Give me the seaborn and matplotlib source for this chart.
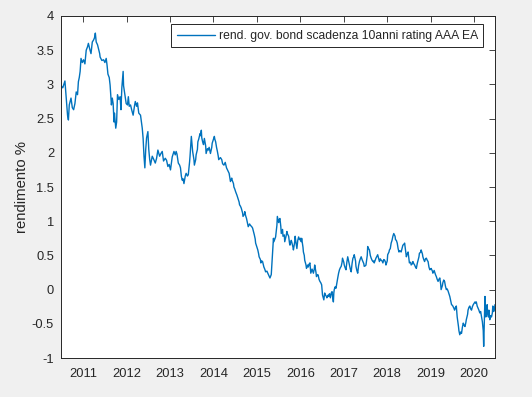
import numpy as np
import pandas as pd
import matplotlib
matplotlib.use("Agg")
import matplotlib.pyplot as plt
import matplotlib.dates as mdates
from matplotlib.ticker import MultipleLocator, FormatStrFormatter
import seaborn as sns

# Rendimento titoli di stato 10 anni, rating AAA area euro
anni = [
    2010.49, 2010.53, 2010.58, 2010.61, 2010.64, 2010.66, 2010.68, 2010.72, 2010.75, 2010.78,
    2010.81, 2010.84, 2010.87, 2010.89, 2010.91, 2010.93, 2010.95, 2010.98, 2011.01, 2011.04,
    2011.07, 2011.10, 2011.12, 2011.15, 2011.18, 2011.21, 2011.24, 2011.26, 2011.28, 2011.30,
    2011.33, 2011.35, 2011.38, 2011.39, 2011.43, 2011.47, 2011.50, 2011.53, 2011.55, 2011.57,
    2011.60, 2011.62, 2011.65, 2011.67, 2011.69, 2011.71, 2011.72, 2011.75, 2011.77, 2011.79,
    2011.82, 2011.85, 2011.87, 2011.89, 2011.92, 2011.93, 2011.95, 2011.97, 2011.99, 2012.02,
    2012.04, 2012.06, 2012.09, 2012.12, 2012.15, 2012.18, 2012.20, 2012.23, 2012.25, 2012.28,
    2012.32, 2012.36, 2012.38, 2012.40, 2012.42, 2012.44, 2012.46, 2012.49, 2012.51, 2012.53,
    2012.55, 2012.59, 2012.62, 2012.66, 2012.69, 2012.72, 2012.76, 2012.79, 2012.82, 2012.85,
    2012.89, 2012.92, 2012.95, 2012.98, 2013.01,
    2013.05, 2013.09, 2013.12, 2013.14, 2013.16, 2013.19, 2013.22, 2013.24, 2013.26, 2013.28,
    2013.30, 2013.32, 2013.35, 2013.37, 2013.40, 2013.42, 2013.45, 2013.46, 2013.48, 2013.49,
    2013.51, 2013.52, 2013.55, 2013.56, 2013.59, 2013.60, 2013.63, 2013.64, 2013.66, 2013.69,
    2013.70, 2013.72, 2013.73, 2013.75, 2013.77, 2013.79, 2013.82, 2013.83, 2013.86, 2013.88,
    2013.90, 2013.93, 2013.96, 2013.97, 2013.99, 2014.02, 2014.03, 2014.05, 2014.07, 2014.09,
    2014.11, 2014.12, 2014.16, 2014.19, 2014.21, 2014.24, 2014.27, 2014.30, 2014.33, 2014.36,
    2014.38, 2014.39, 2014.42, 2014.43, 2014.46, 2014.47, 2014.49, 2014.51, 2014.54, 2014.56,
    2014.59, 2014.60, 2014.62, 2014.64, 2014.67, 2014.68, 2014.71, 2014.72, 2014.74, 2014.76,
    2014.78, 2014.80, 2014.83, 2014.85, 2014.88, 2014.90, 2014.92, 2014.94, 2014.96, 2014.97,
    2015.00, 2015.02, 2015.04, 2015.05, 2015.08, 2015.09, 2015.11, 2015.13, 2015.15, 2015.16,
    2015.18, 2015.20, 2015.23, 2015.25, 2015.28, 2015.30, 2015.33, 2015.34, 2015.36, 2015.38,
    2015.39, 2015.43, 2015.46, 2015.47, 2015.50, 2015.51, 2015.53, 2015.55, 2015.56, 2015.59,
    2015.60, 2015.63, 2015.64, 2015.67, 2015.69, 2015.70, 2015.73, 2015.75, 2015.76, 2015.79,
    2015.80, 2015.83, 2015.84, 2015.87, 2015.88, 2015.90, 2015.92, 2015.94, 2015.96, 2015.98,
    2016.00, 2016.02, 2016.03, 2016.06, 2016.07, 2016.09, 2016.10, 2016.13, 2016.14, 2016.17,
    2016.18, 2016.20, 2016.22, 2016.24, 2016.27, 2016.30, 2016.32, 2016.33, 2016.36, 2016.37,
    2016.40, 2016.41, 2016.43, 2016.45, 2016.47, 2016.49, 2016.51, 2016.54, 2016.56, 2016.57,
    2016.60, 2016.61, 2016.64, 2016.65, 2016.67, 2016.69, 2016.71, 2016.73, 2016.74, 2016.76,
    2016.77, 2016.78, 2016.80, 2016.82, 2016.84, 2016.86, 2016.88, 2016.90, 2016.92, 2016.94,
    2016.96, 2016.97, 2017.00, 2017.01, 2017.03, 2017.05, 2017.07, 2017.09, 2017.11, 2017.13,
    2017.15, 2017.17, 2017.19, 2017.21, 2017.23, 2017.24, 2017.27, 2017.28, 2017.30, 2017.32,
    2017.34, 2017.36, 2017.38, 2017.40, 2017.42, 2017.44, 2017.46, 2017.47, 2017.50, 2017.51,
    2017.54, 2017.55, 2017.57, 2017.59, 2017.61, 2017.63, 2017.65, 2017.67, 2017.69, 2017.70,
    2017.73, 2017.74, 2017.77, 2017.78, 2017.80, 2017.82, 2017.84, 2017.86, 2017.88, 2017.90,
    2017.92, 2017.94, 2017.96, 2017.97,
    2018.00, 2018.01, 2018.04, 2018.05, 2018.07, 2018.09, 2018.11, 2018.13, 2018.15, 2018.18,
    2018.19, 2018.21, 2018.23, 2018.25, 2018.27, 2018.29, 2018.32, 2018.34, 2018.36, 2018.38,
    2018.40, 2018.42, 2018.44, 2018.46, 2018.48, 2018.50, 2018.51, 2018.54, 2018.55, 2018.58,
    2018.59, 2018.61, 2018.63, 2018.65, 2018.67, 2018.69, 2018.71, 2018.73, 2018.74, 2018.77,
    2018.78, 2018.81, 2018.82, 2018.84, 2018.86, 2018.88, 2018.90, 2018.92, 2018.94, 2018.96,
    2018.98, 2019.00, 2019.01, 2019.04, 2019.05, 2019.08, 2019.09, 2019.11, 2019.13, 2019.15,
    2019.17, 2019.19, 2019.21, 2019.23, 2019.24, 2019.27, 2019.28, 2019.30, 2019.32, 2019.34,
    2019.36, 2019.38, 2019.40, 2019.42, 2019.44, 2019.46, 2019.48, 2019.50, 2019.51, 2019.54,
    2019.55, 2019.57, 2019.59, 2019.61, 2019.64, 2019.65, 2019.67, 2019.69, 2019.71, 2019.73,
    2019.75, 2019.77, 2019.79, 2019.81, 2019.82, 2019.85, 2019.86, 2019.88, 2019.90, 2019.92,
    2019.94, 2019.96, 2019.98, 2020.00, 2020.02, 2020.04, 2020.05, 2020.07, 2020.09, 2020.11,
    2020.13, 2020.15, 2020.17, 2020.19, 2020.21, 2020.22, 2020.24, 2020.25, 2020.26, 2020.27,
    2020.28, 2020.30, 2020.31, 2020.33, 2020.34, 2020.36, 2020.38, 2020.40, 2020.42, 2020.43,
    2020.45, 2020.47, 2020.48,
]

rendimento = [
    2.98, 2.95, 3.05, 2.80, 2.55, 2.48, 2.70, 2.80, 2.66, 2.63,
    2.72, 2.89, 2.85, 3.04, 3.10, 3.19, 3.38, 3.32, 3.36, 3.30,
    3.50, 3.55, 3.60, 3.52, 3.45, 3.62, 3.65, 3.68, 3.75, 3.62,
    3.58, 3.53, 3.45, 3.40, 3.35, 3.36, 3.32, 3.38, 3.28, 3.15,
    3.10, 2.99, 2.70, 2.80, 2.72, 2.45, 2.58, 2.36, 2.45, 2.85,
    2.78, 2.82, 2.63, 2.95, 3.19, 2.98, 2.89, 2.80, 2.72, 2.70,
    2.82, 2.68, 2.70, 2.62, 2.55, 2.68, 2.75, 2.68, 2.73, 2.58,
    2.55, 2.36, 2.21, 1.95, 1.78, 2.05, 2.22, 2.31, 2.05, 1.91,
    1.82, 1.95, 1.91, 1.85, 1.92, 2.04, 1.95, 1.99, 2.02, 1.88,
    1.92, 1.89, 1.80, 1.83, 1.75,
    1.94, 2.02, 1.97, 2.02, 1.98, 1.85, 1.82, 1.78, 1.66, 1.60,
    1.62, 1.55, 1.66, 1.70, 1.66, 1.68, 1.87, 1.95, 2.14, 2.24,
    2.10, 2.02, 1.90, 1.82, 1.90, 1.97, 2.05, 2.16, 2.20, 2.28,
    2.25, 2.33, 2.22, 2.16, 2.12, 2.21, 2.10, 1.99, 2.06, 2.04,
    2.08, 1.99, 2.08, 2.14, 2.18, 2.24, 2.20, 2.16, 2.08, 2.02,
    1.95, 1.90, 1.93, 1.90, 1.84, 1.82, 1.86, 1.78, 1.74, 1.70,
    1.62, 1.58, 1.63, 1.60, 1.55, 1.50, 1.47, 1.43, 1.38, 1.34,
    1.28, 1.24, 1.22, 1.19, 1.12, 1.07, 1.10, 1.14, 1.08, 1.04,
    0.98, 0.92, 0.96, 0.94, 0.92, 0.90, 0.85, 0.80, 0.74, 0.68,
    0.62, 0.58, 0.52, 0.48, 0.44, 0.39, 0.42, 0.41, 0.36, 0.33,
    0.30, 0.26, 0.27, 0.24, 0.20, 0.17, 0.22, 0.33, 0.53, 0.75,
    0.70, 0.77, 0.94, 1.07, 0.98, 1.02, 1.04, 0.92, 0.82, 0.88,
    0.78, 0.80, 0.70, 0.78, 0.85, 0.82, 0.78, 0.68, 0.65, 0.72,
    0.70, 0.62, 0.58, 0.70, 0.78, 0.68, 0.60, 0.72, 0.77, 0.73,
    0.75, 0.70, 0.75, 0.62, 0.55, 0.50, 0.43, 0.36, 0.31, 0.36,
    0.33, 0.37, 0.39, 0.24, 0.30, 0.24, 0.30, 0.36, 0.25, 0.19,
    0.22, 0.21, 0.15, 0.12, 0.10, 0.07, -0.08, -0.15, -0.05, -0.07,
    -0.10, -0.12, -0.08, -0.10, -0.06, -0.12, -0.05, -0.03, -0.10, -0.18,
    -0.05, 0.00, 0.04, 0.02, 0.10, 0.17, 0.24, 0.29, 0.32, 0.34,
    0.40, 0.46, 0.40, 0.36, 0.32, 0.29, 0.40, 0.48, 0.42, 0.36,
    0.30, 0.26, 0.38, 0.46, 0.48, 0.51, 0.42, 0.34, 0.28, 0.24,
    0.35, 0.41, 0.45, 0.48, 0.44, 0.41, 0.38, 0.34, 0.35, 0.36,
    0.50, 0.63, 0.60, 0.58, 0.50, 0.46, 0.43, 0.41, 0.42, 0.39,
    0.44, 0.46, 0.50, 0.51, 0.46, 0.41, 0.45, 0.43, 0.42, 0.39,
    0.44, 0.43, 0.40, 0.36,
    0.42, 0.51, 0.55, 0.58, 0.60, 0.68, 0.72, 0.78, 0.82, 0.78,
    0.73, 0.72, 0.68, 0.60, 0.55, 0.57, 0.55, 0.60, 0.65, 0.66,
    0.68, 0.58, 0.48, 0.52, 0.55, 0.45, 0.39, 0.40, 0.36, 0.38,
    0.41, 0.38, 0.36, 0.33, 0.31, 0.38, 0.43, 0.48, 0.53, 0.55,
    0.58, 0.52, 0.48, 0.44, 0.41, 0.45, 0.46, 0.43, 0.41, 0.33,
    0.29, 0.30, 0.31, 0.27, 0.24, 0.28, 0.26, 0.22, 0.19, 0.15,
    0.12, 0.15, 0.17, 0.08, 0.00, 0.06, 0.10, 0.14, 0.12, 0.05,
    0.00, 0.01, -0.02, -0.06, -0.10, -0.16, -0.22, -0.23, -0.24, -0.28,
    -0.30, -0.26, -0.24, -0.40, -0.54, -0.60, -0.66, -0.62, -0.64, -0.55,
    -0.49, -0.52, -0.54, -0.48, -0.44, -0.36, -0.30, -0.26, -0.24, -0.28,
    -0.30, -0.25, -0.22, -0.20, -0.18, -0.20, -0.18, -0.24, -0.27, -0.30,
    -0.34, -0.32, -0.40, -0.47, -0.60, -0.83, -0.30, -0.10, -0.28, -0.40,
    -0.32, -0.22, -0.35, -0.40, -0.30, -0.44, -0.38, -0.40, -0.34, -0.24,
    -0.32, -0.28, -0.22,
]

etichetta = "rend. gov. bond scadenza 10anni rating AAA EA"

# Conversione anno decimale -> data
anni = np.array(anni)
date = pd.to_datetime("2010-01-01") + pd.to_timedelta((anni - 2010) * 365.25, unit="D")
df = pd.DataFrame({"data": date, "rendimento": rendimento})

sns.set_style("white")
plt.rcParams["font.family"] = ["Liberation Sans", "DejaVu Sans"]
plt.rcParams["axes.unicode_minus"] = False

grigio = "#262626"
fig = plt.figure(figsize=(5.32, 3.97), dpi=100, facecolor="#f0f0f0")
ax = fig.add_axes([0.1147, 0.0982, 0.8157, 0.8615])
ax.set_facecolor("white")

sns.lineplot(data=df, x="data", y="rendimento", ax=ax, color="#0072bd",
             linewidth=1.0, estimator=None, label=etichetta)

ax.set_xlim(df["data"].min(), df["data"].max())
ax.set_ylim(-1, 4)
ax.yaxis.set_major_locator(MultipleLocator(0.5))
ax.yaxis.set_major_formatter(FormatStrFormatter("%g"))
ax.xaxis.set_major_locator(mdates.YearLocator())
ax.xaxis.set_major_formatter(mdates.DateFormatter("%Y"))

ax.set_xlabel("")
ax.set_ylabel("rendimento %", fontsize=10.7, color=grigio, labelpad=2)
ax.tick_params(axis="both", direction="in", length=4, width=0.6, colors=grigio,
               labelsize=9.3, top=True, right=True, pad=5)
ax.tick_params(axis="x", pad=7)
for sp in ax.spines.values():
    sp.set_visible(True)
    sp.set_color(grigio)
    sp.set_linewidth(0.7)

leg = ax.legend(loc="upper right", fontsize=8.7, frameon=True, fancybox=False,
                framealpha=1, edgecolor=grigio, borderpad=0.45, borderaxespad=0,
                handlelength=3.15, handletextpad=0.3,
                bbox_to_anchor=(0.973, 0.9757))
leg.get_frame().set_linewidth(0.7)
for t in leg.get_texts():
    t.set_color(grigio)

fig.savefig("out.png", dpi=100, facecolor=fig.get_facecolor())
